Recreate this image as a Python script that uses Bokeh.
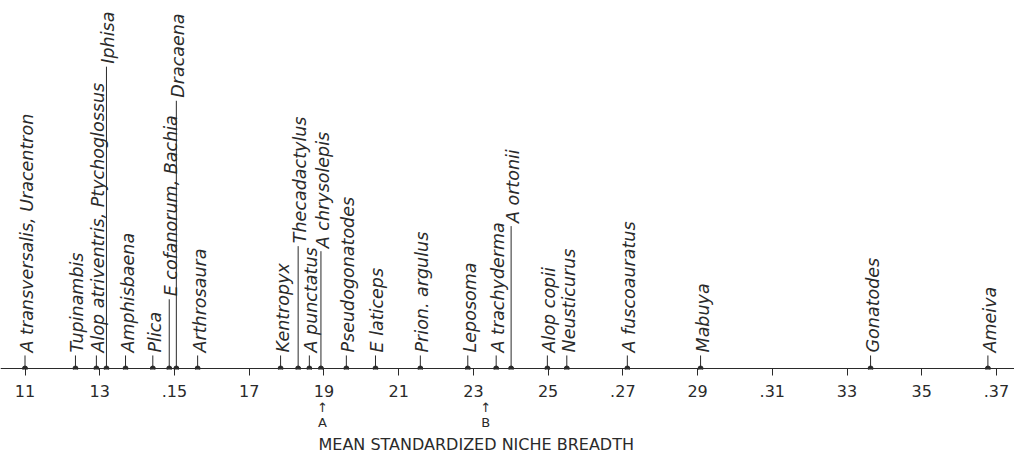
import math
from bokeh.plotting import figure
from bokeh.models import Range1d, LinearAxis, FixedTicker, Span, ColumnDataSource
from bokeh.core.properties import value
from bokeh.embed import file_html
from bokeh.resources import INLINE

# ---- data ----
species = [
    "A transversalis, Uracentron", "Tupinambis", "Alop atriventris, Ptychoglossus",
    "Iphisa", "Amphisbaena", "Plica", "E cofanorum, Bachia", "Dracaena",
    "Arthrosaura", "Kentropyx", "Thecadactylus", "A punctatus", "A chrysolepis",
    "Pseudogonatodes", "E laticeps", "Prion. argulus", "Leposoma",
    "A trachyderma", "A ortonii", "Alop copii", "Neusticurus",
    "A fuscoauratus", "Mabuya", "Gonatodes", "Ameiva",
]
breadth = [
    0.1100, 0.1235, 0.1291, 0.1318, 0.1369, 0.1442, 0.1486, 0.1505,
    0.1562, 0.1784, 0.1831, 0.1861, 0.1892, 0.1960, 0.2038, 0.2158,
    0.2285, 0.2361, 0.2401, 0.2498, 0.2550, 0.2712, 0.2908, 0.3363,
    0.3677,
]
tick_values = [0.11, 0.13, 0.15, 0.17, 0.19, 0.21, 0.23, 0.25, 0.27,
               0.29, 0.31, 0.33, 0.35, 0.37]
tick_labels = ["11", "13", ".15", "17", "19", "21", "23", "25", ".27",
               "29", ".31", "33", "35", ".37"]
marker_values = [0.1896, 0.2333]
marker_labels = ["A", "B"]
x_label = "MEAN STANDARDIZED NICHE BREADTH"

# ---- layout (screen-like y units, 0 = top) ----
AXIS_Y = 367
SHORT = 354
leader_top = [SHORT, SHORT, SHORT, 66, SHORT, SHORT, 298, 100,
              SHORT, SHORT, 245, SHORT, 250, SHORT, SHORT, SHORT,
              SHORT, SHORT, 225, SHORT, SHORT, SHORT, SHORT, SHORT,
              SHORT]
label_bottom = [t - 3 for t in leader_top]

INK = "#2a2a2a"

p = figure(width=1014, height=453, output_backend="svg", toolbar_location=None,
           x_range=Range1d(0.10344, 0.37482), y_range=Range1d(368, 0),
           y_axis_location=None, min_border=0, min_border_bottom=81,
           title=x_label, title_location="below",
           background_fill_color="white", border_fill_color="white")
p.outline_line_color = None
p.grid.visible = False

p.title.align = "left"
p.title.offset = 318
p.title.standoff = 0
p.title.text_font = "DejaVu Sans"
p.title.text_font_style = "normal"
p.title.text_font_size = "16px"
p.title.text_color = INK

src = ColumnDataSource(dict(x=breadth, name=species, top=leader_top,
                            lb=label_bottom, base=[AXIS_Y] * len(breadth)))

p.add_layout(Span(location=AXIS_Y, dimension="width", line_color=INK,
                  line_width=1.2))
p.segment(x0="x", y0="base", x1="x", y1="top", source=src,
          line_color=INK, line_width=1)
p.scatter(x="x", y="base", source=src, size=5, color=INK)
p.text(x="x", y="lb", text="name", source=src, angle=math.pi / 2,
       text_align="left", text_baseline="middle", x_offset=2,
       text_font=value("DejaVu Sans"), text_font_style="italic",
       text_font_size="17.5px", text_color=INK)

ax = p.xaxis[0]
ax.ticker = FixedTicker(ticks=tick_values)
ax.major_label_overrides = {v: l for v, l in zip(tick_values, tick_labels)}
ax.axis_line_color = None
ax.major_tick_in = 1
ax.major_tick_out = 6
ax.minor_tick_line_color = None
ax.major_tick_line_color = INK
ax.major_label_standoff = 9
ax.major_label_text_font = "DejaVu Sans"
ax.major_label_text_font_size = "16px"
ax.major_label_text_color = INK

arrow_ax = LinearAxis(ticker=FixedTicker(ticks=marker_values),
                      major_label_overrides={v: "\u2191" for v in marker_values},
                      axis_line_color=None, major_tick_line_color=None,
                      minor_tick_line_color=None, major_tick_in=0,
                      major_tick_out=0, major_label_standoff=0,
                      major_label_text_font="DejaVu Sans",
                      major_label_text_font_size="13px",
                      major_label_text_color=INK)
letter_ax = LinearAxis(ticker=FixedTicker(ticks=marker_values),
                       major_label_overrides={v: l for v, l in zip(marker_values, marker_labels)},
                       axis_line_color=None, major_tick_line_color=None,
                       minor_tick_line_color=None, major_tick_in=0,
                       major_tick_out=0, major_label_standoff=-3,
                       major_label_text_font="DejaVu Sans",
                       major_label_text_font_size="13px",
                       major_label_text_color=INK)
p.add_layout(arrow_ax, "below")
p.add_layout(letter_ax, "below")

open("out.html", "w").write(file_html(p, INLINE))
